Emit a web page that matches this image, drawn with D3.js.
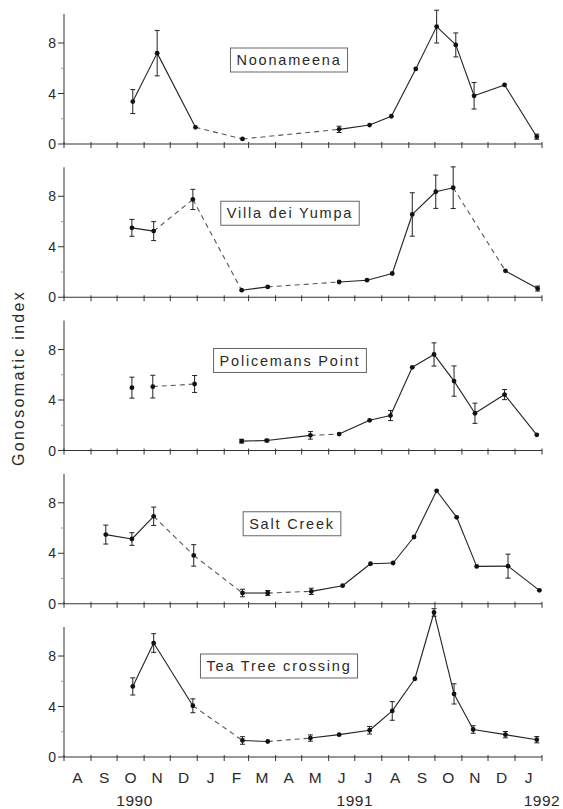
<!DOCTYPE html>
<html>
<head>
<meta charset="utf-8">
<script src="https://cdn.jsdelivr.net/npm/d3@7"></script>
<style>
  body { margin: 0; background: #fff; }
  svg { display: block; }
  text { font-family: "Liberation Sans", Arial, sans-serif; fill: #2a2a2a; }
</style>
</head>
<body>
<div id="figure"></div>
<script>
// gonosomatic index by site, sampled roughly monthly Oct 1990 - Jan 1992
var sites = ["Noonameena", "Villa dei Yumpa", "Policemans Point", "Salt Creek", "Tea Tree crossing"];

var noonameenaDates = ["1990-10-19", "1990-11-16", "1990-12-30", "1991-02-22", "1991-06-13", "1991-07-18", "1991-08-12", "1991-09-09", "1991-10-03", "1991-10-25", "1991-11-15", "1991-12-20", "1992-01-26"];
var noonameenaGsi = [3.36, 7.2, 1.32, 0.4, 1.16, 1.5, 2.2, 5.95, 9.3, 7.85, 3.82, 4.68, 0.58];
var noonameenaErr = [0.95, 1.8, 0, 0, 0.25, 0, 0, 0, 1.3, 0.95, 1.05, 0, 0.2];

var villaDates = ["1990-10-18", "1990-11-12", "1990-12-27", "1991-02-21", "1991-03-23", "1991-06-13", "1991-07-15", "1991-08-13", "1991-09-05", "1991-10-02", "1991-10-22", "1991-12-21", "1992-01-27"];
var villaGsi = [5.5, 5.24, 7.75, 0.56, 0.82, 1.21, 1.35, 1.88, 6.56, 8.36, 8.68, 2.09, 0.69];
var villaErr = [0.67, 0.75, 0.8, 0, 0, 0, 0, 0, 1.72, 1.32, 1.65, 0, 0.2];

var policemansDates = ["1990-10-18", "1990-11-11", "1990-12-29", "1991-02-21", "1991-03-22", "1991-05-11", "1991-06-13", "1991-07-18", "1991-08-11", "1991-09-05", "1991-09-30", "1991-10-23", "1991-11-16", "1991-12-20", "1992-01-26"];
var policemansGsi = [4.98, 5.06, 5.27, 0.74, 0.79, 1.2, 1.3, 2.39, 2.77, 6.59, 7.61, 5.5, 2.95, 4.43, 1.24];
var policemansErr = [0.83, 0.9, 0.67, 0.15, 0.1, 0.3, 0, 0, 0.4, 0, 0.92, 1.2, 0.8, 0.4, 0];

var saltCreekDates = ["1990-09-18", "1990-10-18", "1990-11-12", "1990-12-28", "1991-02-22", "1991-03-23", "1991-05-12", "1991-06-17", "1991-07-19", "1991-08-14", "1991-09-07", "1991-10-03", "1991-10-26", "1991-11-18", "1991-12-24", "1992-01-29"];
var saltCreekGsi = [5.48, 5.13, 6.93, 3.83, 0.85, 0.85, 0.98, 1.43, 3.17, 3.23, 5.29, 8.95, 6.85, 2.96, 2.98, 1.06];
var saltCreekErr = [0.75, 0.5, 0.73, 0.85, 0.3, 0.2, 0.25, 0, 0, 0, 0, 0, 0, 0, 0.95, 0];

var teaTreeDates = ["1990-10-19", "1990-11-12", "1990-12-27", "1991-02-22", "1991-03-23", "1991-05-11", "1991-06-13", "1991-07-18", "1991-08-13", "1991-09-08", "1991-09-30", "1991-10-23", "1991-11-14", "1991-12-21", "1992-01-26"];
var teaTreeGsi = [5.59, 9.03, 4.06, 1.31, 1.23, 1.5, 1.77, 2.12, 3.65, 6.2, 11.45, 5.0, 2.18, 1.77, 1.37];
var teaTreeErr = [0.68, 0.74, 0.55, 0.3, 0, 0.25, 0, 0.3, 0.74, 0, 0.3, 0.8, 0.3, 0.25, 0.25];

// segments (index of first point) drawn dashed = months not sampled in between
var noonameenaDashed = [2, 3];
var villaDashed = [1, 2, 4, 10];
var policemansDashed = [1, 5];
var saltCreekDashed = [2, 3, 5];
var teaTreeDashed = [2, 4];
// segments left unjoined
var policemansGaps = [0, 2];

var monthLabels = ["A", "S", "O", "N", "D", "J", "F", "M", "A", "M", "J", "J", "A", "S", "O", "N", "D", "J"];
var yearLabels = ["1990", "1991", "1992"];
var yearDates = ["1990-10-21", "1991-07-01", "1992-02-01"];
var yTicks = [0, 4, 8];

var parse = d3.timeParse("%Y-%m-%d");

var series = [
    { dates: noonameenaDates, gsi: noonameenaGsi, err: noonameenaErr, dashed: noonameenaDashed, gaps: [] },
    { dates: villaDates, gsi: villaGsi, err: villaErr, dashed: villaDashed, gaps: [] },
    { dates: policemansDates, gsi: policemansGsi, err: policemansErr, dashed: policemansDashed, gaps: policemansGaps },
    { dates: saltCreekDates, gsi: saltCreekGsi, err: saltCreekErr, dashed: saltCreekDashed, gaps: [] },
    { dates: teaTreeDates, gsi: teaTreeGsi, err: teaTreeErr, dashed: teaTreeDashed, gaps: [] }
];

var width = 563, height = 809;
var left = 64, right = 542;
var firstZero = 144, panelStep = 153.25, panelHeight = 130;
// label box centre: x, and distance above the zero line
var boxX = [289, 290, 290, 292, 279];
var boxUp = [84, 84, 90, 80, 91];

var svg = d3.select("#figure").append("svg")
    .attr("width", width)
    .attr("height", height);

var x = d3.scaleTime()
    .domain([parse("1990-08-01"), parse("1992-02-01")])
    .range([left, right]);

var monthTicks = d3.timeMonth.range(parse("1990-08-01"), parse("1992-02-02"));

var ink = "#222";

series.forEach(function (s, i) {
    var zero = firstZero + i * panelStep;
    var y = d3.scaleLinear().domain([0, 10.3]).range([zero, zero - panelHeight]);
    var g = svg.append("g");

    // y axis
    g.append("line")
        .attr("x1", left).attr("x2", left)
        .attr("y1", y(0)).attr("y2", y(10.3))
        .attr("stroke", "#333").attr("stroke-width", 1);
    g.selectAll(null).data(yTicks).enter().append("line")
        .attr("x1", left - 6).attr("x2", left)
        .attr("y1", function (d) { return y(d) }).attr("y2", function (d) { return y(d) })
        .attr("stroke", "#333");
    g.selectAll(null).data([2, 6]).enter().append("line")
        .attr("x1", left - 3).attr("x2", left)
        .attr("y1", function (d) { return y(d) }).attr("y2", function (d) { return y(d) })
        .attr("stroke", "#999");
    g.selectAll(null).data(yTicks).enter().append("text")
        .attr("x", left - 8)
        .attr("y", function (d) { return y(d) + 5 })
        .attr("text-anchor", "end")
        .attr("font-size", 14)
        .text(function (d) { return d });

    // x axis
    g.append("line")
        .attr("x1", left).attr("x2", right)
        .attr("y1", zero).attr("y2", zero)
        .attr("stroke", "#333").attr("stroke-width", 1.2);
    g.selectAll(null).data(monthTicks).enter().append("line")
        .attr("x1", function (d) { return x(d) }).attr("x2", function (d) { return x(d) })
        .attr("y1", zero - 2).attr("y2", zero + 4)
        .attr("stroke", "#333");

    var pts = s.dates.map(function (d, k) {
        return { date: parse(d), v: s.gsi[k], e: s.err[k] };
    });

    // joining lines
    var line = d3.line()
        .x(function (d) { return x(d.date) })
        .y(function (d) { return y(d.v) });
    for (var k = 0; k < pts.length - 1; k++) {
        if (s.gaps.indexOf(k) >= 0) continue;
        var dashed = s.dashed.indexOf(k) >= 0;
        g.append("path")
            .attr("d", line([pts[k], pts[k + 1]]))
            .attr("fill", "none")
            .attr("stroke", dashed ? "#555" : ink)
            .attr("stroke-width", 1.1)
            .attr("stroke-dasharray", dashed ? "5,4" : null);
    }

    // error bars
    var eb = pts.filter(function (d) { return d.e > 0 });
    g.selectAll(null).data(eb).enter().append("line")
        .attr("x1", function (d) { return x(d.date) }).attr("x2", function (d) { return x(d.date) })
        .attr("y1", function (d) { return y(d.v - d.e) }).attr("y2", function (d) { return y(d.v + d.e) })
        .attr("stroke", ink).attr("stroke-width", 1);
    [-1, 1].forEach(function (sgn) {
        g.selectAll(null).data(eb).enter().append("line")
            .attr("x1", function (d) { return x(d.date) - 2.5 }).attr("x2", function (d) { return x(d.date) + 2.5 })
            .attr("y1", function (d) { return y(d.v + sgn * d.e) }).attr("y2", function (d) { return y(d.v + sgn * d.e) })
            .attr("stroke", ink).attr("stroke-width", 1);
    });

    // points
    g.selectAll(null).data(pts).enter().append("circle")
        .attr("cx", function (d) { return x(d.date) })
        .attr("cy", function (d) { return y(d.v) })
        .attr("r", 2.4)
        .attr("fill", "#111");

    // site label in a box
    var lbl = g.append("text")
        .attr("x", boxX[i])
        .attr("y", zero - boxUp[i] + 5)
        .attr("text-anchor", "middle")
        .attr("font-size", 14.5)
        .attr("letter-spacing", "1.8px")
        .text(sites[i]);
    var bb = lbl.node().getBBox();
    g.insert("rect", "text")
        .attr("x", bb.x - 6).attr("y", zero - boxUp[i] - 12)
        .attr("width", bb.width + 12).attr("height", 24)
        .attr("fill", "#fff")
        .attr("stroke", "#666").attr("stroke-width", 1);
});

// month letters and years under the bottom panel
var bottom = firstZero + 4 * panelStep;
svg.selectAll(null).data(monthLabels).enter().append("text")
    .attr("x", function (d, k) { return (x(monthTicks[k]) + x(monthTicks[k + 1])) / 2 })
    .attr("y", bottom + 26)
    .attr("text-anchor", "middle")
    .attr("font-size", 15.5)
    .text(function (d) { return d });

svg.selectAll(null).data(yearLabels).enter().append("text")
    .attr("x", function (d, k) { return x(parse(yearDates[k])) })
    .attr("y", bottom + 49)
    .attr("text-anchor", "middle")
    .attr("font-size", 15.5)
    .attr("letter-spacing", "0.5px")
    .text(function (d) { return d });

svg.append("text")
    .attr("transform", "translate(24,378) rotate(-90)")
    .attr("text-anchor", "middle")
    .attr("font-size", 16)
    .attr("letter-spacing", "2.3px")
    .text("Gonosomatic index");
</script>
</body>
</html>
